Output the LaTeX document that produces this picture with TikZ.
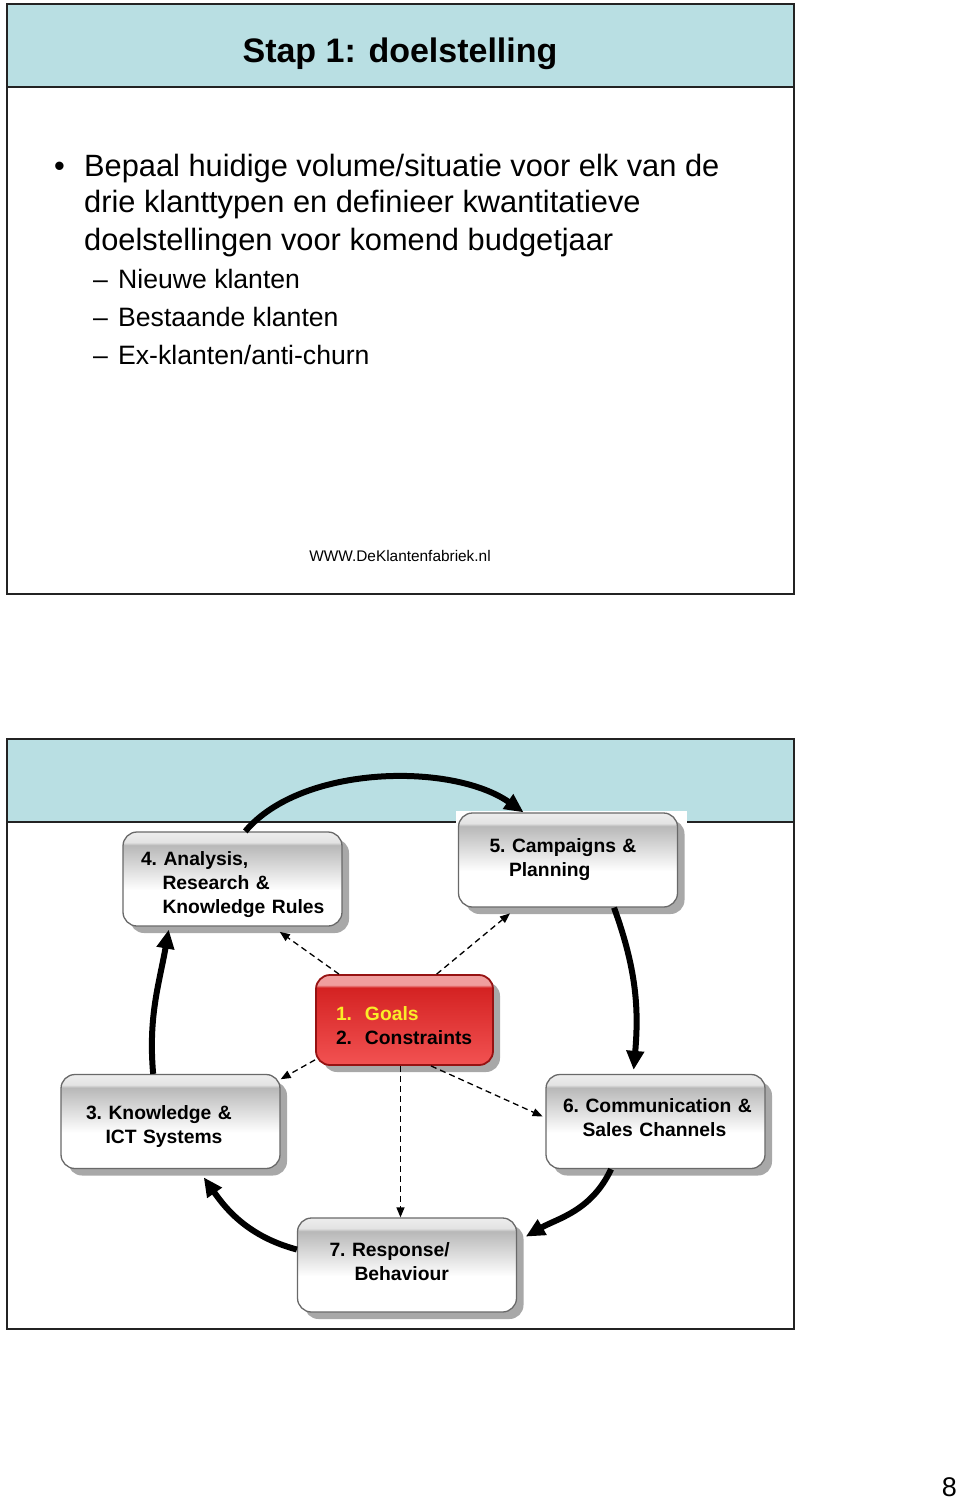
\documentclass[tikz,border=0pt]{standalone}
\usepackage{fontspec}
\setmainfont{Liberation Sans}
\usepackage{xcolor}
\usetikzlibrary{arrows.meta}
\usetikzlibrary{calc}
\usetikzlibrary{positioning}
\usetikzlibrary{shadows}

\definecolor{bandblue}{RGB}{185,223,227}
\definecolor{framegrey}{RGB}{35,35,35}
\definecolor{boxedge}{RGB}{105,105,105}
\definecolor{rededge}{RGB}{150,18,18}
\definecolor{redlow}{RGB}{242,82,82}
\definecolor{redhigh}{RGB}{212,34,34}
\definecolor{redshine}{RGB}{240,158,158}
\definecolor{goalyellow}{RGB}{250,236,40}

\pgfdeclareverticalshading{greyglass}{100bp}{color(0bp)=(white); color(25bp)=(white); color(44bp)=(white); color(68bp)=(black!28); color(69.5bp)=(black!11); color(75bp)=(black!7); color(100bp)=(black!7)}
\pgfdeclareverticalshading{redglass}{100bp}{color(0bp)=(redlow); color(25bp)=(redlow); color(68bp)=(redhigh); color(69.5bp)=(redshine); color(75bp)=(redshine); color(100bp)=(redshine)}

\newcommand{\lowtop}{\rule{0pt}{24.5pt}}
\newcommand{\highend}{\rule[-8pt]{0pt}{0pt}}

\tikzset{
  boxshadow/.style={drop shadow={shadow xshift=7pt, shadow yshift=-7pt, fill=black!38, opacity=0.9}},
  cyclebox/.style={rounded corners=14pt, shading=greyglass, draw=boxedge, line width=1.3pt,
    boxshadow, minimum width=219pt, minimum height=94pt, inner xsep=0pt, inner ysep=0pt,
    align=left, font=\fontsize{19.3}{24}\selectfont\bfseries},
  goalbox/.style={cyclebox, shading=redglass, draw=rededge, line width=1.8pt, minimum width=177pt, minimum height=90pt},
  cyclearrow/.style={line width=6pt, -{Triangle[length=19pt, width=17pt]}},
  goalarrow/.style={line width=1.3pt, dash pattern=on 6pt off 4pt, -{Triangle[length=10pt, width=8pt]}},
  bodytext/.style={inner sep=0pt, anchor=base west, font=\fontsize{30.8}{37}\selectfont},
  subtext/.style={inner sep=0pt, anchor=base west, font=\fontsize{26.6}{38}\selectfont}
}

\begin{document}
\begin{tikzpicture}[x=1pt, y=1pt]

  \useasboundingbox (0,0) rectangle (960,-1499);

  % slide 1
  \fill [bandblue] (7,-4) rectangle (794,-87);
  \draw [framegrey, line width=1.8pt] (7,-4) rectangle (794,-594);
  \draw [framegrey, line width=1.8pt] (7,-87) -- (794,-87);

  \node [inner sep=0pt, anchor=base, font=\fontsize{34}{40}\selectfont\bfseries] (title) at (400,-62) {Stap 1: doelstelling};

  \node [bodytext] (dot) at (54,-176) {•};
  \node [bodytext] (lineA) at (84,-176) {Bepaal huidige volume/situatie voor elk van de};
  \node [bodytext] (lineB) at (84,-212) {drie klanttypen en definieer kwantitatieve};
  \node [bodytext] (lineC) at (84,-250) {doelstellingen voor komend budgetjaar};

  \node [subtext] (dashA) at (93,-288) {–};
  \node [subtext] (subA) at (118,-288) {Nieuwe klanten};
  \node [subtext] (dashB) at (93,-326) {–};
  \node [subtext] (subB) at (118,-326) {Bestaande klanten};
  \node [subtext] (dashC) at (93,-364) {–};
  \node [subtext] (subC) at (118,-364) {Ex-klanten/anti-churn};

  \node [inner sep=0pt, anchor=base, font=\fontsize{15.4}{18}\selectfont] (site) at (400,-561) {WWW.DeKlantenfabriek.nl};

  % slide 2
  \fill [bandblue] (7,-739) rectangle (794,-822);
  \draw [framegrey, line width=1.8pt] (7,-739) rectangle (794,-1329);
  \draw [framegrey, line width=1.8pt] (7,-822) -- (794,-822);
  \fill [white] (456,-811) rectangle (687,-830);

  \node [cyclebox, text width=183pt] (analysis) at (232.5,-879)
    {\lowtop 4.~Analysis,\\\hspace*{21.5pt}Research~\&\\\hspace*{21.5pt}\mbox{Knowledge Rules}};
  \node [cyclebox, text width=157pt] (campaigns) at (568,-860)
    {5.~Campaigns~\&\\\hspace*{19.5pt}Planning};
  \node [goalbox, text width=137pt] (goals) at (404.5,-1020)
    {\lowtop\textcolor{goalyellow}{\makebox[29pt][l]{1.}Goals}\\\makebox[29pt][l]{2.}Constraints};
  \node [cyclebox, text width=169pt] (ictsys) at (170.5,-1121.5)
    {\lowtop 3.~Knowledge~\&\\\hspace*{19.5pt}ICT~Systems};
  \node [cyclebox, text width=185pt] (channels) at (655.5,-1121.5)
    {\mbox{6.\ Communication \&}\\\hspace*{19.5pt}\mbox{Sales Channels}\highend};
  \node [cyclebox, text width=155pt] (response) at (407,-1265)
    {7.~Response/\\\hspace*{25pt}Behaviour\highend};

  % the cycle
  \draw [cyclearrow] (analysis.75) to [out=50, in=145, looseness=0.8] (campaigns.133);
  \draw [cyclearrow, shorten >=4pt] (campaigns.-46) to [out=-70, in=85] (channels.115);
  \draw [cyclearrow, shorten >=10pt] (channels.-133) to [out=-115, in=30] (response.12);
  \draw [cyclearrow, shorten >=10pt] (response.172) to [out=165, in=-55] (ictsys.-60);
  \draw [cyclearrow, shorten >=3pt] (ictsys.110) to [out=95, in=-100] (analysis.217);

  % from goals
  \draw [goalarrow, shorten >=9pt] (goals.145) -- (analysis.-50);
  \draw [goalarrow, shorten >=9pt] (goals.55) -- (campaigns.223);
  \draw [goalarrow] (goals.204) -- (ictsys.21);
  \draw [goalarrow, shorten >=3pt] (goals.-60) -- (channels.178);
  \draw [goalarrow] (goals.-95) -- (goals.-95 |- response.north);

  \node [inner sep=0pt, anchor=base east, font=\fontsize{27}{30}\selectfont] (pagenum) at (957,-1496) {8};

\end{tikzpicture}
\end{document}
